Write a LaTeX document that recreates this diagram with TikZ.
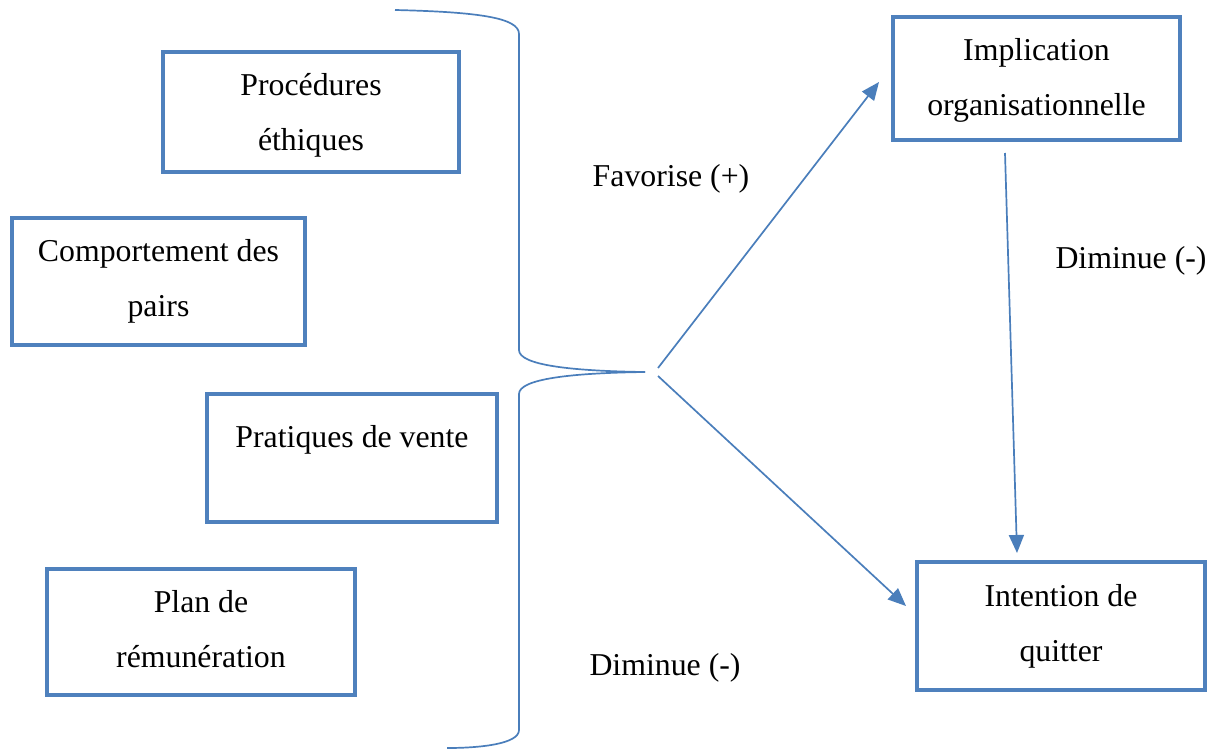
\documentclass[tikz,border=0pt]{standalone}
\usepackage{fontspec}
\setmainfont{Liberation Serif}
\usetikzlibrary{arrows.meta}
\definecolor{boxblue}{HTML}{4F81BD}
\definecolor{lineblue}{HTML}{4A7EBB}
\begin{document}
\begin{tikzpicture}[x=1pt,y=-1pt,
  box/.style={draw=boxblue, line width=4.6pt, rectangle, inner sep=0pt, align=center,
    font=\fontsize{31.5}{55}\selectfont},
  lbl/.style={font=\fontsize{31.8}{55}\selectfont, inner sep=0pt, anchor=base},
  conn/.style={draw=lineblue, line width=1.7pt, -{Triangle[length=18pt,width=15pt]}},
  brace/.style={draw=lineblue, line width=1.7pt}]
\useasboundingbox (0,0) rectangle (1217,750);
% boxes
\node[box, minimum width=296pt, minimum height=120pt] (pe) at (311,112) {};
\node[box, minimum width=293pt, minimum height=127pt] (cp) at (158.5,281.5) {};
\node[box, minimum width=290pt, minimum height=128pt] (pv) at (352,458) {};
\node[box, minimum width=308pt, minimum height=126pt] (pr) at (201,632) {};
\node[box, minimum width=287pt, minimum height=123pt] (io) at (1036.5,78.5) {};
\node[box, minimum width=288pt, minimum height=128pt] (iq) at (1061,626) {};
% box texts
\node[lbl] (pe1) at (311,95) {Procédures};
\node[lbl] (pe2) at (311,150) {éthiques};
\node[lbl] (cp1) at (158.5,261) {Comportement des};
\node[lbl] (cp2) at (158.5,316) {pairs};
\node[lbl] (pv1) at (352,447) {Pratiques de vente};
\node[lbl] (pr1) at (201,612) {Plan de};
\node[lbl] (pr2) at (201,667) {rémunération};
\node[lbl] (io1) at (1036.5,60) {Implication};
\node[lbl] (io2) at (1036.5,115) {organisationnelle};
\node[lbl] (iq1) at (1061,606) {Intention de};
\node[lbl] (iq2) at (1061,661) {quitter};
% labels
\node[lbl] (fav) at (671,186) {Favorise (+)};
\node[lbl] (dim1) at (1131,268) {Diminue (-)};
\node[lbl] (dim2) at (665,675) {Diminue (-)};
% brace
\coordinate (tip) at (645,372);
\coordinate (btop) at (395,10);
\coordinate (bbot) at (447,748);
\draw[brace] (btop) .. controls (480,12) and (519,18) .. (519,34)
  -- (519,350) .. controls (519,365) and (570,371) .. (tip);
\draw[brace] (tip) .. controls (570,373) and (519,379) .. (519,394)
  -- (519,730) .. controls (519,744) and (480,748) .. (bbot);
% arrows
\coordinate (a1) at (658,368);
\coordinate (a2) at (658,376);
\coordinate (e1) at (879,82);
\coordinate (e2) at (906,606);
\coordinate (v1) at (1005,153);
\coordinate (v2) at (1017,553);
\draw[conn] (a1) -- (e1);
\draw[conn] (a2) -- (e2);
\draw[conn] (v1) -- (v2);
\end{tikzpicture}
\end{document}
